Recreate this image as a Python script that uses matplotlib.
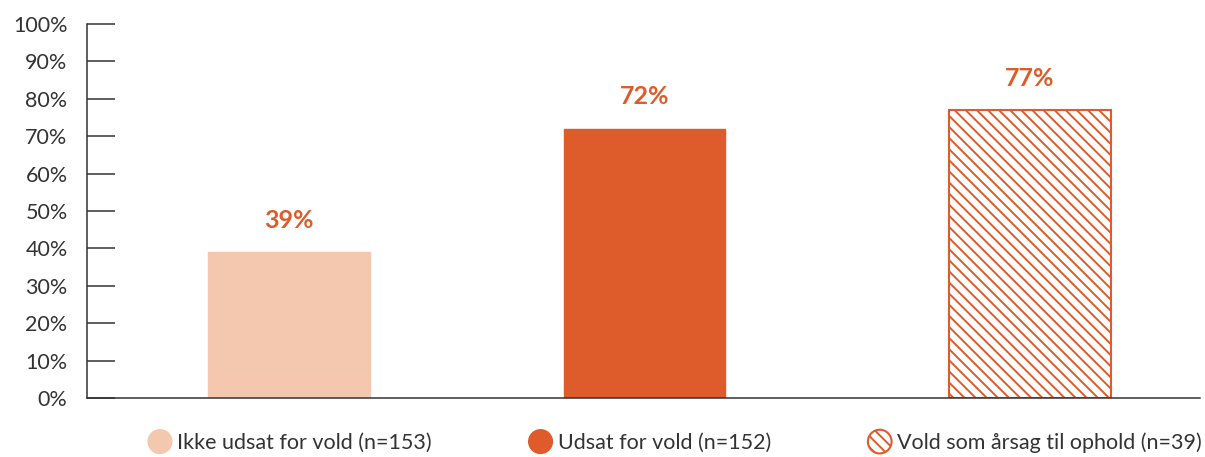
import matplotlib.pyplot as plt
import matplotlib.patches as mpatches
from matplotlib.legend_handler import HandlerPatch

categories = ["Ikke udsat for vold (n=153)", "Udsat for vold (n=152)", "Vold som årsag til ophold (n=39)"]
values = [39, 72, 77]
labels = ["39%", "72%", "77%"]
yticks = [0, 10, 20, 30, 40, 50, 60, 70, 80, 90, 100]

light = "#F3C8AE"
orange = "#DE5B2B"
dark = "#333333"

plt.rcParams["font.family"] = ["Lato", "DejaVu Sans"]
plt.rcParams["hatch.linewidth"] = 1.4


class HandlerCircle(HandlerPatch):
    def create_artists(self, legend, orig, xdescent, ydescent, width, height, fontsize, trans):
        r = 0.55 * fontsize
        c = mpatches.Circle((width / 2 - xdescent, height / 2 - ydescent), r)
        self.update_prop(c, orig, legend)
        c.set_transform(trans)
        return [c]


fig = plt.figure(figsize=(12.05, 4.57), dpi=100)
ax = fig.add_axes([0.0722, 0.129, 0.924, 0.8185])

x = [0, 0.96, 2.0]
styles = [
    dict(color=light, edgecolor=light),
    dict(color=orange, edgecolor=orange),
    dict(facecolor="white", edgecolor=orange, hatch="\\\\\\", linewidth=1.5),
]
handles = []
for xi, v, lab, cat, st in zip(x, values, labels, categories, styles):
    ax.bar(xi, v, width=0.435, **st)
    ax.annotate(lab, (xi, v), xytext=(0, 23), textcoords="offset points",
                ha="center", va="center", color=orange, fontsize=18, fontweight="bold")
    handles.append(mpatches.Patch(label=cat, **st))

ax.set_xlim(-0.545, 2.46)
ax.set_ylim(0, 100)
ax.set_yticks(yticks)
ax.set_yticklabels([f"{t}%" for t in yticks])
ax.set_xticks([])
ax.tick_params(axis="y", direction="in", length=20, width=1.1, color=dark,
               labelsize=15.5, labelcolor=dark, pad=14)
for s in ["top", "right"]:
    ax.spines[s].set_visible(False)
for s in ["left", "bottom"]:
    ax.spines[s].set_color(dark)
    ax.spines[s].set_linewidth(1.1)

fig.legend(handles=handles, loc="center", bbox_to_anchor=(0.561, 0.031), ncol=3,
           frameon=False, fontsize=15.5, handler_map={mpatches.Patch: HandlerCircle()},
           handlelength=0.9, handletextpad=0.35, columnspacing=4.6, labelcolor=dark)

fig.savefig("out.png", dpi=100)
